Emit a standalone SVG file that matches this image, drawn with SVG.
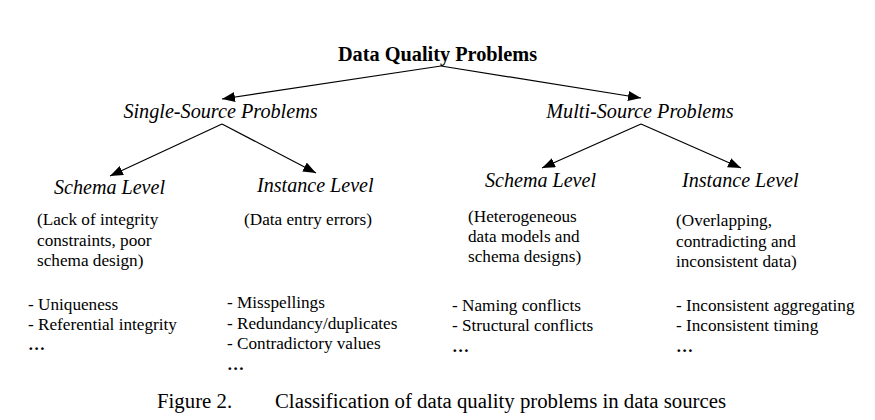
<svg xmlns="http://www.w3.org/2000/svg" width="875" height="420" viewBox="0 0 875 420">
<style>
text{font-family:"Liberation Serif","Times New Roman",serif;fill:#000}
.title{font-size:20.3px;font-weight:bold}
.head{font-size:20.2px;font-style:italic}
.lvl{font-size:20.1px;font-style:italic}
.body{font-size:17.2px}
.dots{font-size:17.2px;font-weight:bold}
.cap{font-size:20.8px}
.edge{stroke:#000;stroke-width:1.2;fill:none;marker-end:url(#arr)}
</style>
<defs>
<marker id="arr" markerUnits="userSpaceOnUse" markerWidth="14" markerHeight="12" refX="13" refY="5" orient="auto">
<path d="M0,0 L13,5 L0,10 z" fill="#000"/>
</marker>
</defs>
<rect width="875" height="420" fill="#fff"/>
<g id="connectors">
<line class="edge" x1="441" y1="66" x2="222" y2="99"/>
<line class="edge" x1="441" y1="66" x2="641" y2="98"/>
<line class="edge" x1="222" y1="124" x2="110" y2="176"/>
<line class="edge" x1="222" y1="124" x2="316" y2="173"/>
<line class="edge" x1="641" y1="124" x2="542" y2="168"/>
<line class="edge" x1="641" y1="124" x2="741" y2="168"/>
</g>
<g id="root"><text class="title" x="437.5" y="61" text-anchor="middle">Data Quality Problems</text></g>
<g id="single"><text class="head" x="220.5" y="118" text-anchor="middle">Single-Source Problems</text></g>
<g id="multi"><text class="head" x="640" y="118" text-anchor="middle">Multi-Source Problems</text></g>
<g id="single-schema">
<text class="lvl" x="54" y="194">Schema Level</text>
<text class="body" x="37" y="225">(Lack of integrity</text>
<text class="body" x="37" y="245.5">constraints, poor</text>
<text class="body" x="37" y="265.5">schema design)</text>
<text class="body" x="28" y="310">- Uniqueness</text>
<text class="body" x="28" y="330">- Referential integrity</text>
<text class="dots" x="28" y="350">…</text>
</g>
<g id="single-instance">
<text class="lvl" x="257" y="192">Instance Level</text>
<text class="body" x="244" y="225">(Data entry errors)</text>
<text class="body" x="227" y="308">- Misspellings</text>
<text class="body" x="227" y="328.5">- Redundancy/duplicates</text>
<text class="body" x="227" y="349">- Contradictory values</text>
<text class="dots" x="227" y="370">…</text>
</g>
<g id="multi-schema">
<text class="lvl" x="485" y="187">Schema Level</text>
<text class="body" x="468" y="222">(Heterogeneous</text>
<text class="body" x="468" y="242">data models and</text>
<text class="body" x="468" y="262">schema designs)</text>
<text class="body" x="452" y="311">- Naming conflicts</text>
<text class="body" x="452" y="331">- Structural conflicts</text>
<text class="dots" x="452" y="352">…</text>
</g>
<g id="multi-instance">
<text class="lvl" x="682" y="187">Instance Level</text>
<text class="body" x="676" y="226">(Overlapping,</text>
<text class="body" x="676" y="247">contradicting and</text>
<text class="body" x="676" y="267">inconsistent data)</text>
<text class="body" x="676" y="311">- Inconsistent aggregating</text>
<text class="body" x="676" y="331">- Inconsistent timing</text>
<text class="dots" x="676" y="352">…</text>
</g>
<g id="caption">
<text class="cap" x="157" y="408">Figure 2.</text>
<text class="cap" x="275" y="408">Classification of data quality problems in data sources</text>
</g>
</svg>
